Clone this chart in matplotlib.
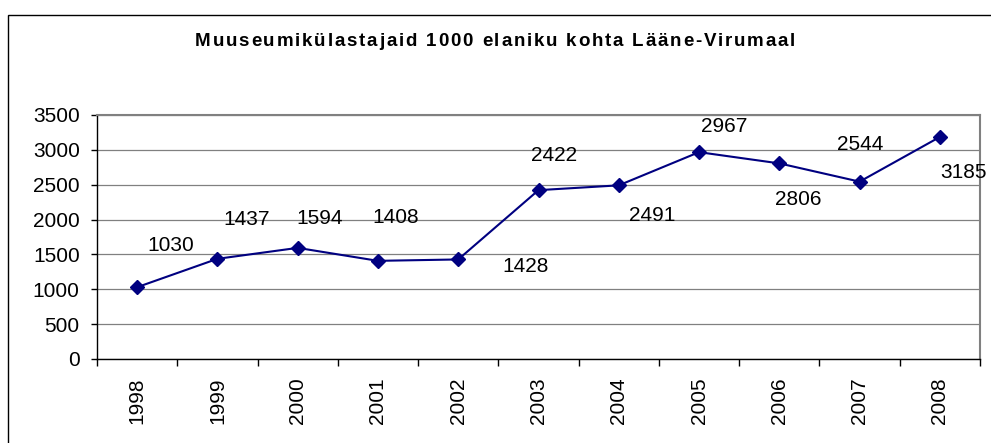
import matplotlib
matplotlib.use("Agg")
import matplotlib.pyplot as plt
from matplotlib.patches import Rectangle

plt.rcParams['font.family'] = ['Liberation Sans', 'DejaVu Sans']

# data
title = 'Muuseumikülastajaid 1000 elaniku kohta Lääne-Virumaal'
years = ['1998', '1999', '2000', '2001', '2002', '2003', '2004', '2005', '2006', '2007', '2008']
visitors = [1030, 1437, 1594, 1408, 1428, 2422, 2491, 2967, 2806, 2544, 3185]

# label offsets from the point, in pixels (dx, dy)
label_offsets = [(34, 42), (29, 39), (22, 29), (18, 43), (67, -7), (16, 35),
                 (33, -30), (25, 26), (19, -36), (1, 37), (24, -36)]

W, H = 991, 443
fig = plt.figure(figsize=(W / 100, H / 100), dpi=100)

# outer chart border (runs off right and bottom edges)
fig.add_artist(Rectangle((8 / W, -0.2), 1.2, (H - 15) / H + 0.2,
                         transform=fig.transFigure, fill=False,
                         edgecolor='black', linewidth=1.0))

ax = fig.add_axes([97 / W, (H - 359) / H, (980 - 97) / W, (359 - 115) / H])

x = list(range(len(years)))
ax.plot(x, visitors, color='#000080', linewidth=1.5, marker='D',
        markersize=7, markerfacecolor='#000080', markeredgecolor='#000080',
        zorder=3)

for xi, v, (dx, dy) in zip(x, visitors, label_offsets):
    ax.annotate(str(v), (xi, v), xytext=(dx, dy), textcoords='offset pixels',
                ha='center', va='center', fontsize=15, color='black')

ax.set_xlim(-0.5, len(years) - 0.5)
ax.set_ylim(0, 3500)
ax.set_yticks(range(0, 3501, 500))
ax.yaxis.grid(True, color='#808080', linewidth=0.9)
ax.set_axisbelow(True)

ax.set_xticks(x)
ax.set_xticklabels(years, rotation=90, fontsize=15)
ax.set_xticks([i - 0.5 for i in range(len(years) + 1)], minor=True)
ax.tick_params(axis='x', which='major', length=0, pad=13)
ax.tick_params(axis='x', which='minor', length=5, width=1, direction='out')
ax.tick_params(axis='y', length=4, width=1, pad=8.5, labelsize=15)

for side in ['top', 'right']:
    ax.spines[side].set_color('#808080')
    ax.spines[side].set_linewidth(1.5)
for side in ['left', 'bottom']:
    ax.spines[side].set_color('black')
    ax.spines[side].set_linewidth(1.0)

# title with a little letter spacing, like the original Excel rendering
renderer = fig.canvas.get_renderer()
title_kw = dict(fontsize=13.5, fontweight='bold', va='center', ha='left')


def text_width(s):
    t = fig.text(0, 0, s + '|', **title_kw)
    w = t.get_window_extent(renderer).width
    t.remove()
    return w - bar_w


t0 = fig.text(0, 0, '|', **title_kw)
bar_w = t0.get_window_extent(renderer).width
t0.remove()

left, right = 195, 795
natural = text_width(title)
gap = max(0, (right - left - natural) / (len(title) - 1))
for i, ch in enumerate(title):
    if ch == ' ':
        continue
    xpos = left + text_width(title[:i]) + i * gap
    fig.text(xpos / W, (H - 42) / H, ch, **title_kw)

fig.savefig('out.png', dpi=100)
